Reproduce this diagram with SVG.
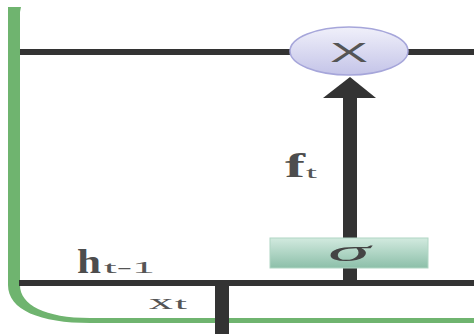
<svg xmlns="http://www.w3.org/2000/svg" width="474" height="334" viewBox="0 0 474 334">
<style>
.ln{fill:#333333}
.lbl{font-family:"Liberation Serif",serif;font-weight:bold;fill:#4d4d4d}
.sub{font-family:"Liberation Serif",serif;font-weight:normal;fill:#555555}
</style>
<defs>
<linearGradient id="gE" x1="0" y1="0" x2="0" y2="1">
<stop offset="0" stop-color="#f0f0fa"/>
<stop offset="1" stop-color="#c4c4e8"/>
</linearGradient>
<linearGradient id="gS" x1="0" y1="0" x2="0" y2="1">
<stop offset="0" stop-color="#d2eadf"/>
<stop offset="1" stop-color="#8cbfa9"/>
</linearGradient>
</defs>
<rect width="474" height="334" fill="#ffffff"/>
<g id="border">
<path d="M8,7 L21,7 L20,12 L20,285 C20,305 45,318 90,318 L474,318 L474,323 L90,323 C40,323 8,310 8,285 Z" fill="#6fb46f"/>
</g>
<g id="connectors">
<rect class="ln" x="20" y="49" width="454" height="6"/>
<rect class="ln" x="19" y="280" width="455" height="6"/>
<rect class="ln" x="215" y="280" width="14" height="54"/>
<rect class="ln" x="343" y="96" width="14" height="188"/>
<polygon class="ln" points="323,98 350,77 376,98"/>
</g>
<g id="multiply">
<ellipse cx="349" cy="51" rx="59" ry="24" fill="url(#gE)" stroke="#a6a6da" stroke-width="1.5"/>
<text x="330" y="62" font-family="Liberation Sans,sans-serif" font-size="28" fill="#555555" textLength="38" lengthAdjust="spacingAndGlyphs">X</text>
</g>
<g id="sigma">
<rect x="270" y="238" width="158" height="30" fill="url(#gS)" stroke="#b0d6c4" stroke-width="1"/>
<text x="328" y="261" font-family="Liberation Serif,serif" font-style="italic" font-size="30" fill="#444444" textLength="42" lengthAdjust="spacingAndGlyphs">σ</text>
</g>
<g id="label-ft">
<text class="lbl" x="285" y="177" font-size="34" textLength="20" lengthAdjust="spacingAndGlyphs">f</text>
<text class="sub" x="306" y="178" font-size="17" textLength="11" lengthAdjust="spacingAndGlyphs">t</text>
</g>
<g id="label-ht1">
<text class="lbl" x="77" y="273" font-size="33" textLength="24" lengthAdjust="spacingAndGlyphs">h</text>
<text class="sub" x="104" y="273" font-size="17" textLength="51" lengthAdjust="spacingAndGlyphs">t-1</text>
</g>
<g id="label-xt">
<text class="sub" x="149" y="309" font-size="22" textLength="24" lengthAdjust="spacingAndGlyphs">x</text>
<text class="sub" x="175" y="309" font-size="16" textLength="12" lengthAdjust="spacingAndGlyphs">t</text>
</g>
</svg>
